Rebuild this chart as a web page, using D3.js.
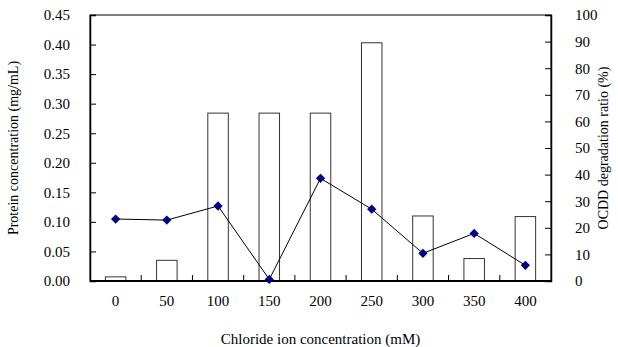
<!DOCTYPE html>
<html>
<head>
<meta charset="utf-8">
<script src="https://cdn.jsdelivr.net/npm/d3@7"></script>
<style>
  body { margin: 0; background: #fff; }
  text { font-family: "Liberation Serif", "Times New Roman", serif; fill: #000; }
</style>
</head>
<body>
<div id="vis"></div>
<script>
var width = 618;
var height = 347;

// chloride concentration (mM)
var categories = ['0', '50', '100', '150', '200', '250', '300', '350', '400'];
// protein concentration (mg/mL), bars
var protein = [0.007, 0.035, 0.284, 0.284, 0.284, 0.403, 0.110, 0.038, 0.109];
// OCDD degradation ratio (%), line
var degradation = [23.3, 22.9, 28.2, 0.6, 38.6, 27.0, 10.4, 17.9, 5.9];

var leftTicks = [0, 0.05, 0.10, 0.15, 0.20, 0.25, 0.30, 0.35, 0.40, 0.45];
var rightTicks = [0, 10, 20, 30, 40, 50, 60, 70, 80, 90, 100];

var margin = { top: 15, right: 67, bottom: 66, left: 90 };
var innerW = width - margin.left - margin.right;
var innerH = height - margin.top - margin.bottom;

var svg = d3.select('#vis').append('svg')
  .attr('width', width)
  .attr('height', height);

var g = svg.append('g')
  .attr('transform', 'translate(' + margin.left + ',' + margin.top + ')');

var x = d3.scaleBand().domain(categories).range([0, innerW]).padding(0);
var yL = d3.scaleLinear().domain([0, 0.45]).range([innerH, 0]);
var yR = d3.scaleLinear().domain([0, 100]).range([innerH, 0]);

var barW = 20.5;

// frame
g.append('rect')
  .attr('x', 0).attr('y', 0)
  .attr('width', innerW).attr('height', innerH)
  .attr('fill', 'none')
  .attr('stroke', '#000')
  .attr('stroke-width', 1);

// bars
g.selectAll('.bar')
  .data(protein)
  .enter().append('rect')
  .attr('class', 'bar')
  .attr('x', function (d, i) { return x(categories[i]) + x.bandwidth() / 2 - barW / 2; })
  .attr('y', function (d) { return yL(d); })
  .attr('width', barW)
  .attr('height', function (d) { return innerH - yL(d); })
  .attr('fill', '#fff')
  .attr('stroke', '#333')
  .attr('stroke-width', 1);

// left axis
var leftAxis = g.append('g')
  .call(d3.axisLeft(yL).tickValues(leftTicks).tickSize(-6).tickPadding(20)
    .tickFormat(d3.format('.2f')));
leftAxis.select('.domain').attr('stroke', '#000').attr('stroke-width', 1.5);
leftAxis.selectAll('text').style('font-size', '15px');

// right axis
var rightAxis = g.append('g')
  .attr('transform', 'translate(' + innerW + ',0)')
  .call(d3.axisRight(yR).tickValues(rightTicks).tickSize(-6).tickPadding(24));
rightAxis.select('.domain').attr('stroke', '#000').attr('stroke-width', 1.5);
rightAxis.selectAll('text').style('font-size', '15px');

// bottom axis: ticks on category boundaries, labels centred
var bottom = g.append('g').attr('transform', 'translate(0,' + innerH + ')');
bottom.append('line')
  .attr('x1', 0).attr('x2', innerW)
  .attr('stroke', '#000').attr('stroke-width', 2);
bottom.selectAll('.xtick')
  .data(categories.slice(1))
  .enter().append('line')
  .attr('class', 'xtick')
  .attr('x1', function (d) { return x(d); })
  .attr('x2', function (d) { return x(d); })
  .attr('y1', 0).attr('y2', -6)
  .attr('stroke', '#000');
bottom.selectAll('.xlabel')
  .data(categories)
  .enter().append('text')
  .attr('class', 'xlabel')
  .attr('x', function (d) { return x(d) + x.bandwidth() / 2; })
  .attr('y', 25)
  .attr('text-anchor', 'middle')
  .style('font-size', '15px')
  .text(function (d) { return d; });

// degradation line
var line = d3.line()
  .x(function (d, i) { return x(categories[i]) + x.bandwidth() / 2; })
  .y(function (d) { return yR(d); });

g.append('path')
  .datum(degradation)
  .attr('d', line)
  .attr('fill', 'none')
  .attr('stroke', '#000')
  .attr('stroke-width', 1);

g.selectAll('.pt')
  .data(degradation)
  .enter().append('path')
  .attr('class', 'pt')
  .attr('d', d3.symbol().type(d3.symbolDiamond2).size(55))
  .attr('transform', function (d, i) {
    return 'translate(' + (x(categories[i]) + x.bandwidth() / 2) + ',' + yR(d) + ')';
  })
  .attr('fill', '#000080');

// axis titles
svg.append('text')
  .attr('x', margin.left + innerW / 2)
  .attr('y', 344)
  .attr('text-anchor', 'middle')
  .style('font-size', '15px')
  .text('Chloride ion concentration (mM)');

svg.append('text')
  .attr('transform', 'translate(18,' + (margin.top + innerH / 2) + ') rotate(-90)')
  .attr('text-anchor', 'middle')
  .style('font-size', '14px')
  .text('Protein concentration (mg/mL)');

svg.append('text')
  .attr('transform', 'translate(608,' + (margin.top + innerH / 2) + ') rotate(-90)')
  .attr('text-anchor', 'middle')
  .style('font-size', '14px')
  .text('OCDD degradation ratio (%)');
</script>
</body>
</html>
